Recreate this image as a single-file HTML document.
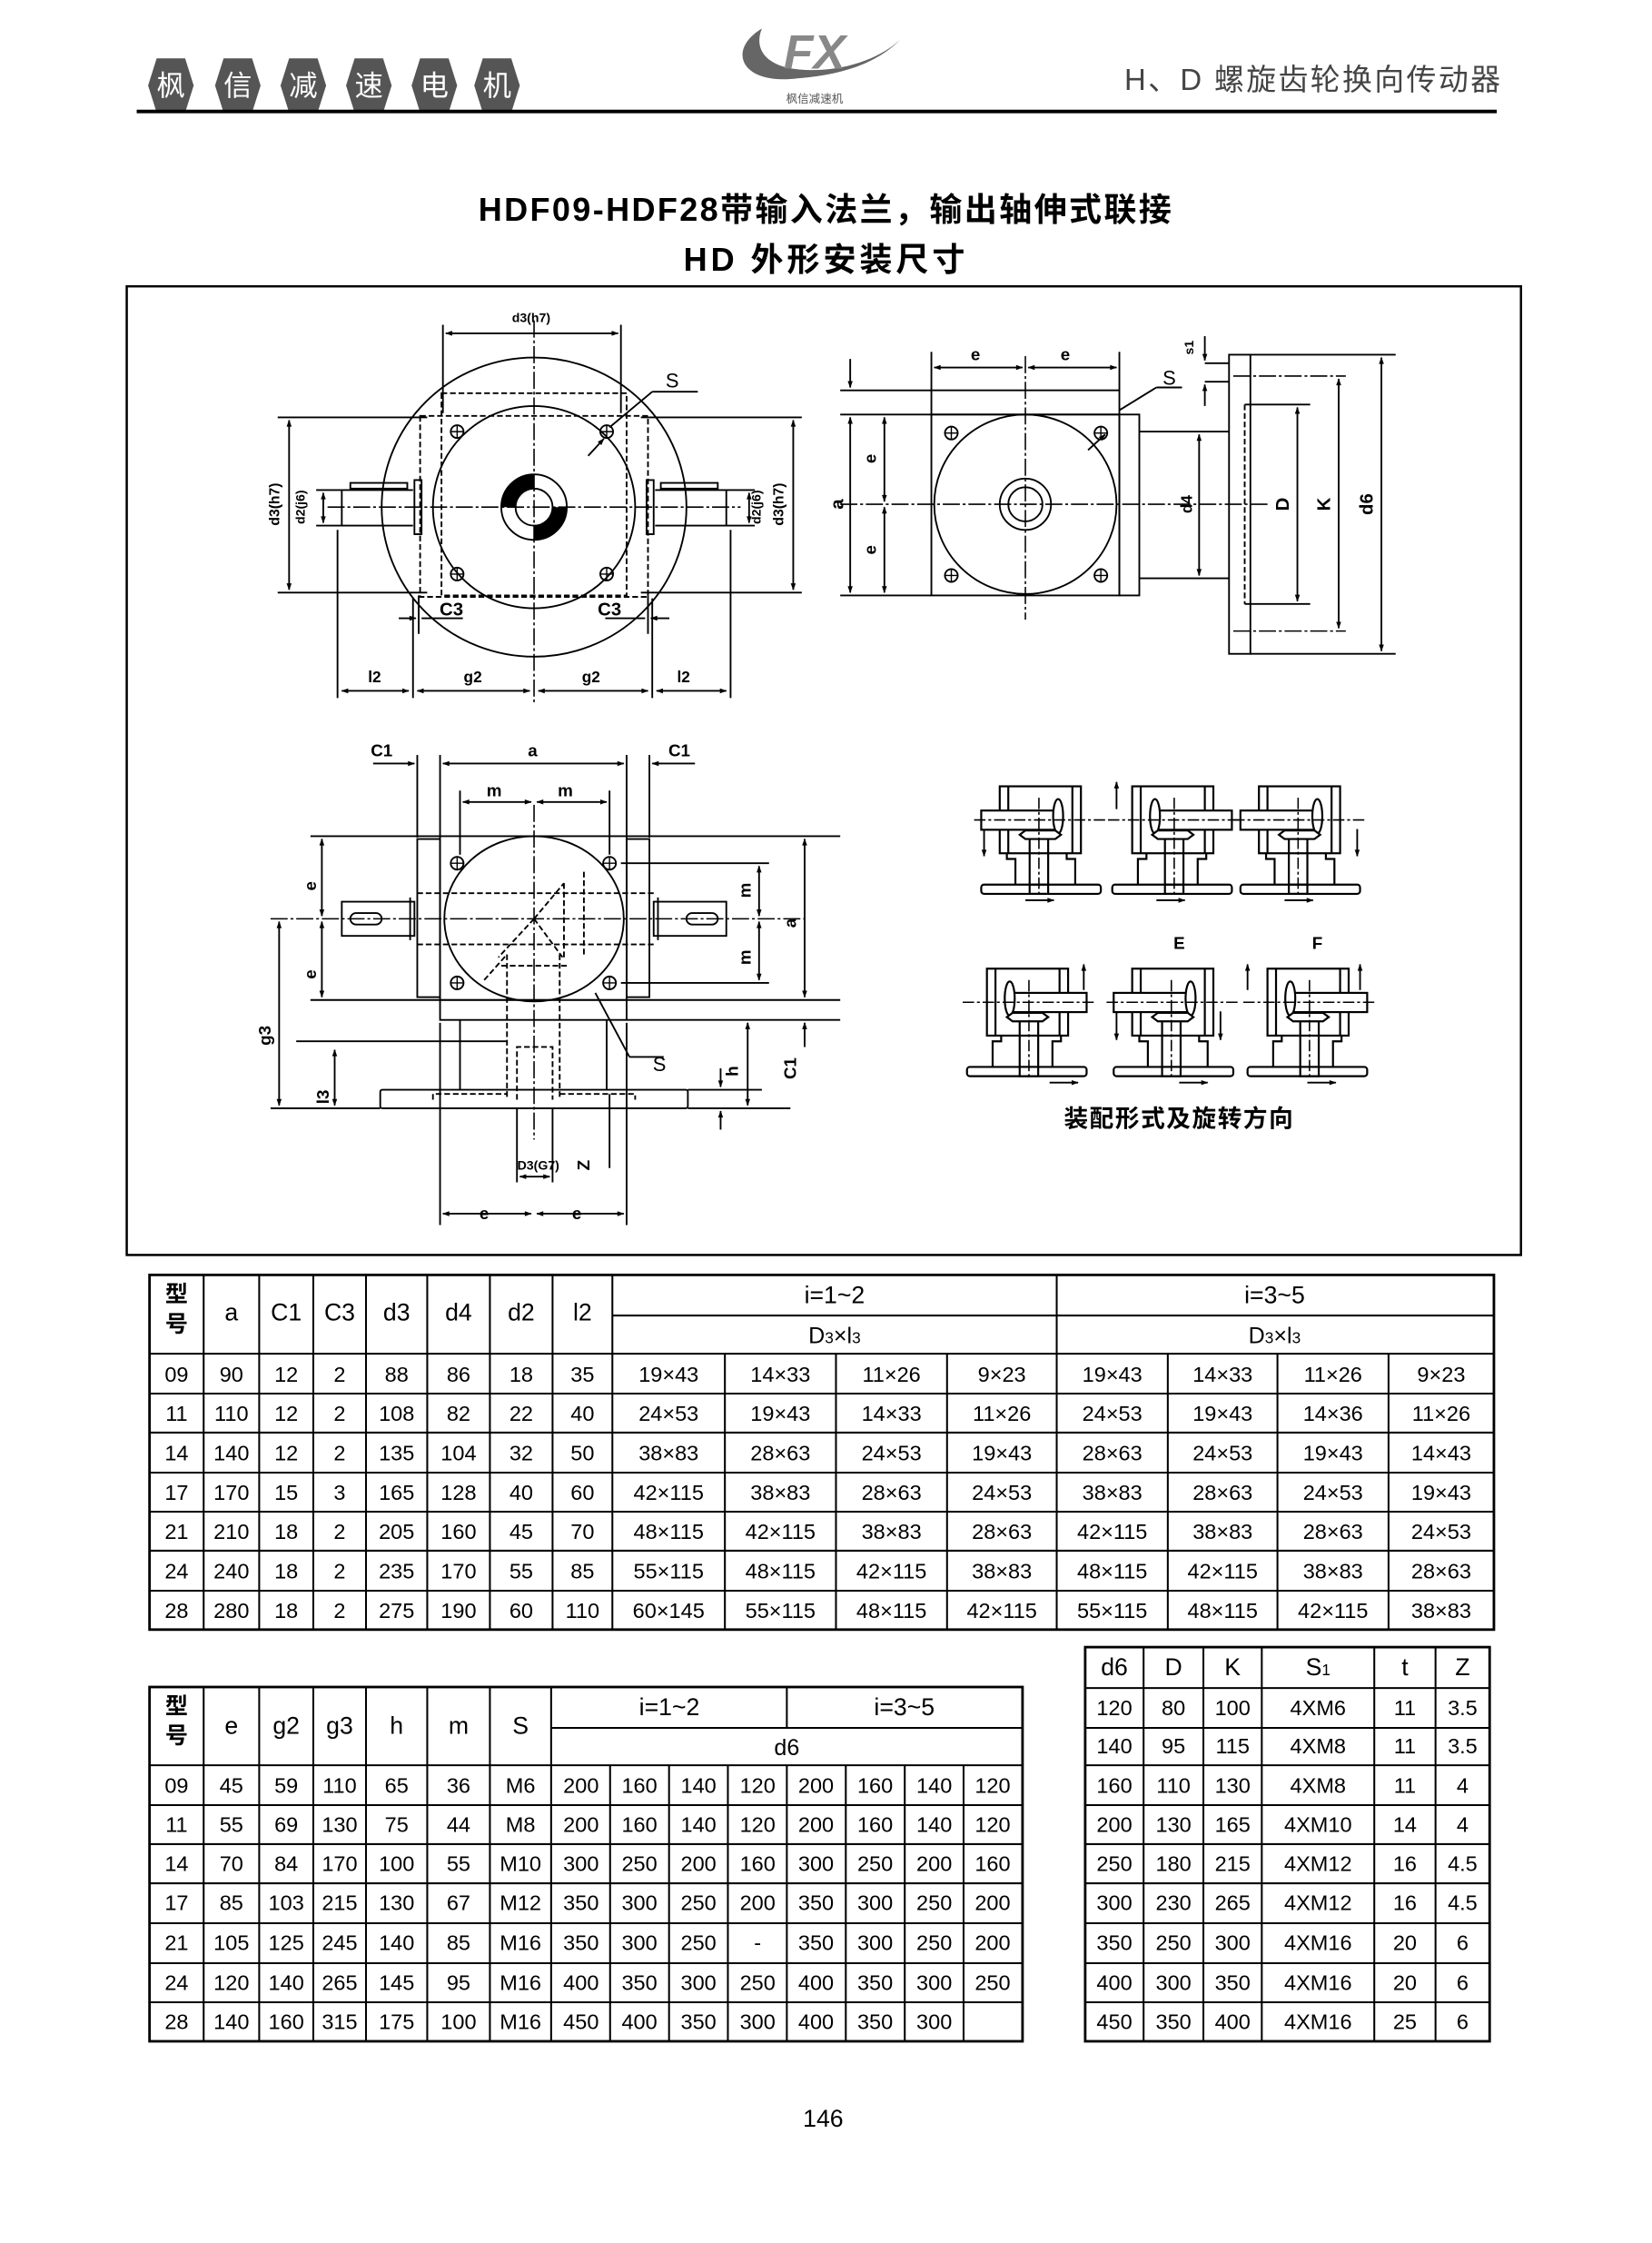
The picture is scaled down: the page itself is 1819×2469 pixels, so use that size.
<!DOCTYPE html>
<html><head><meta charset="utf-8"><style>
html,body{margin:0;padding:0;background:#fff;}
svg{display:block;}
text{font-family:"Liberation Sans","Noto Sans CJK SC",sans-serif;}
</style></head><body>
<svg width="1819" height="2469" viewBox="0 0 1160 1574.6" preserveAspectRatio="none" xmlns="http://www.w3.org/2000/svg">
<defs>
<marker id="ar" viewBox="0 0 10 10" refX="9" refY="5" markerWidth="7" markerHeight="5" orient="auto-start-reverse" markerUnits="userSpaceOnUse"><path d="M0,1.5 L10,5 L0,8.5 z" fill="#000"/></marker>
<g id="icon" fill="none" stroke="#000" stroke-width="1.4">
<rect x="13" y="10" width="57" height="47"/>
<line x1="19" y1="10" x2="19" y2="57"/><line x1="64" y1="10" x2="64" y2="57"/>
<path d="M18,57 V61 H24 V79 M60,57 V61 H66 V79" />
<rect x="0" y="79" width="84" height="6.5" rx="2"/>
<rect x="34" y="44" width="13" height="41.5"/>
<line x1="34" y1="79" x2="47" y2="79"/>
<rect x="0" y="27" width="53" height="13.5" fill="#fff"/>
<ellipse cx="54" cy="31" rx="3.5" ry="12" fill="#fff"/>
<path d="M27,44 L31,41 H52 L56,44 L52,47 H31 Z" fill="#fff"/>
<line x1="-5" y1="33.6" x2="88" y2="33.6" stroke-dasharray="8 2 2 2" stroke-width="1"/>
<line x1="40.5" y1="18" x2="40.5" y2="88" stroke-dasharray="8 2 2 2" stroke-width="1"/>
</g>
</defs>

<!-- header -->
<g fill="#555">
<polygon points="104,60 110,41 130,41 136,60 130,79 110,79"/>
<polygon points="151,60 157,41 177,41 183,60 177,79 157,79"/>
<polygon points="197,60 203,41 223,41 229,60 223,79 203,79"/>
<polygon points="243,60 249,41 269,41 275,60 269,79 249,79"/>
<polygon points="289,60 295,41 315,41 321,60 315,79 295,79"/>
<polygon points="333,60 339,41 359,41 365,60 359,79 339,79"/>
</g>
<g fill="#fff" font-size="20" text-anchor="middle">
<text x="120" y="67">枫</text><text x="167" y="67">信</text><text x="213" y="67">减</text><text x="259" y="67">速</text><text x="305" y="67">电</text><text x="349" y="67">机</text>
</g>
<path d="M535,20 C510,35 520,60 560,55 C600,52 620,40 632,28 C612,46 580,52 555,48 C535,44 530,32 535,20 Z" fill="#666"/>
<text x="572" y="48" font-size="34" font-style="italic" font-weight="bold" fill="#888" text-anchor="middle">FX</text>
<text x="572" y="72" font-size="8" fill="#555" text-anchor="middle">枫信减速机</text>
<text x="1055" y="63" font-size="21" fill="#444" text-anchor="end" letter-spacing="1.5">H、D 螺旋齿轮换向传动器</text>
<rect x="96" y="77" width="955" height="2.5" fill="#000"/>

<text x="580" y="155" font-size="23" font-weight="bold" text-anchor="middle" letter-spacing="1.5">HDF09-HDF28带输入法兰，输出轴伸式联接</text>
<text x="580" y="190" font-size="23" font-weight="bold" text-anchor="middle" letter-spacing="2.5">HD 外形安装尺寸</text>

<rect x="89" y="201" width="979" height="680" fill="none" stroke="#000" stroke-width="1.6"/>

<!-- Drawing 1 -->
<g fill="none" stroke="#000" stroke-width="1.2">
<ellipse cx="375" cy="356" rx="107" ry="105"/>
<circle cx="375" cy="356" r="71"/>
<rect x="310" y="276" width="130" height="142" stroke-dasharray="4 2"/>
<rect x="295" y="292" width="160" height="127" stroke-dasharray="4 2"/>
<line x1="375" y1="225" x2="375" y2="495" stroke-dasharray="12 2 2 2" stroke-width="1"/>
<line x1="230" y1="356" x2="520" y2="356" stroke-dasharray="12 2 2 2" stroke-width="1"/>
<line x1="311" y1="228" x2="311" y2="290"/><line x1="436" y1="228" x2="436" y2="290"/>
<line x1="313" y1="234" x2="434" y2="234" marker-start="url(#ar)" marker-end="url(#ar)"/>
<line x1="195" y1="293" x2="300" y2="293"/><line x1="450" y1="293" x2="563" y2="293"/>
<line x1="195" y1="416" x2="300" y2="416"/><line x1="450" y1="416" x2="563" y2="416"/>
<line x1="203" y1="295" x2="203" y2="414" marker-start="url(#ar)" marker-end="url(#ar)"/>
<line x1="557" y1="295" x2="557" y2="414" marker-start="url(#ar)" marker-end="url(#ar)"/>
<path d="M290,344 H240 V369 H290"/><rect x="246" y="339" width="40" height="4"/>
<rect x="291" y="337" width="5" height="38"/>
<path d="M460,344 H510 V369 H460"/><rect x="464" y="339" width="40" height="4"/>
<rect x="454" y="337" width="5" height="38"/>
<line x1="222" y1="344" x2="240" y2="344"/><line x1="222" y1="369" x2="240" y2="369"/>
<line x1="227" y1="346" x2="227" y2="367" marker-start="url(#ar)" marker-end="url(#ar)"/>
<line x1="510" y1="344" x2="530" y2="344"/><line x1="510" y1="369" x2="530" y2="369"/>
<line x1="526" y1="346" x2="526" y2="367" marker-start="url(#ar)" marker-end="url(#ar)"/>
<circle cx="375" cy="356" r="23"/><circle cx="375" cy="356" r="13"/>
<circle cx="321" cy="303" r="4.5"/><circle cx="426" cy="303" r="4.5"/><circle cx="321" cy="403" r="4.5"/><circle cx="426" cy="403" r="4.5"/>
<path d="M316.5,303h9M321,298.5v9M421.5,303h9M426,298.5v9M316.5,403h9M321,398.5v9M421.5,403h9M426,398.5v9" stroke-width="0.9"/>
<line x1="428" y1="300" x2="458" y2="275"/><line x1="458" y1="275" x2="490" y2="275"/>
<line x1="413" y1="320" x2="424" y2="308" marker-end="url(#ar)"/>
<line x1="237" y1="372" x2="237" y2="490"/><line x1="290" y1="420" x2="290" y2="490"/><line x1="458" y1="420" x2="458" y2="490"/><line x1="513" y1="372" x2="513" y2="490"/>
<line x1="294" y1="418" x2="294" y2="445"/><line x1="455" y1="418" x2="455" y2="445"/>
<line x1="240" y1="485" x2="287" y2="485" marker-start="url(#ar)" marker-end="url(#ar)"/>
<line x1="293" y1="485" x2="372" y2="485" marker-start="url(#ar)" marker-end="url(#ar)"/>
<line x1="378" y1="485" x2="455" y2="485" marker-start="url(#ar)" marker-end="url(#ar)"/>
<line x1="461" y1="485" x2="510" y2="485" marker-start="url(#ar)" marker-end="url(#ar)"/>
<line x1="280" y1="434" x2="292" y2="434" marker-end="url(#ar)"/><line x1="296" y1="434" x2="325" y2="434"/>
<line x1="470" y1="434" x2="457" y2="434" marker-end="url(#ar)"/><line x1="453" y1="434" x2="425" y2="434"/>
</g>
<path d="M375,333 A23,23 0 0 0 352,356 H362 A13,13 0 0 1 375,343 Z M375,379 A23,23 0 0 0 398,356 H388 A13,13 0 0 1 375,369 Z" fill="#000"/>
<g font-size="11" text-anchor="middle" font-weight="bold">
<text x="373" y="226" font-size="9">d3(h7)</text>
<text x="472" y="272" font-size="14" font-weight="normal">S</text>
<text x="317" y="432" font-size="13">C3</text><text x="428" y="432" font-size="13">C3</text>
<text x="263" y="479">l2</text><text x="332" y="479">g2</text><text x="415" y="479">g2</text><text x="480" y="479">l2</text>
<text transform="translate(196,354) rotate(-90)" font-size="10">d3(h7)</text>
<text transform="translate(214,356) rotate(-90)" font-size="9">d2(j6)</text>
<text transform="translate(534,356) rotate(-90)" font-size="9">d2(j6)</text>
<text transform="translate(550,354) rotate(-90)" font-size="10">d3(h7)</text>
</g>

<!-- Drawing 2 -->
<g fill="none" stroke="#000" stroke-width="1.2">
<rect x="654" y="274" width="132" height="17"/>
<rect x="654" y="291" width="132" height="127"/>
<rect x="786" y="291" width="14" height="127"/>
<path d="M800,303 H863 M800,406 H863"/>
<rect x="863" y="249" width="15" height="210"/>
<line x1="874" y1="284" x2="874" y2="424" stroke-dasharray="4 2"/>
<ellipse cx="720" cy="354" rx="64" ry="63"/>
<circle cx="720" cy="354" r="18"/><circle cx="720" cy="354" r="12"/>
<circle cx="668" cy="304" r="4.5"/><circle cx="773" cy="304" r="4.5"/><circle cx="668" cy="404" r="4.5"/><circle cx="773" cy="404" r="4.5"/>
<path d="M663.5,304h9M668,299.5v9M768.5,304h9M773,299.5v9M663.5,404h9M668,399.5v9M768.5,404h9M773,399.5v9" stroke-width="0.9"/>
<line x1="590" y1="354" x2="890" y2="354" stroke-dasharray="12 2 2 2" stroke-width="1"/>
<line x1="720" y1="250" x2="720" y2="435" stroke-dasharray="12 2 2 2" stroke-width="1"/>
<line x1="866" y1="264" x2="945" y2="264" stroke-dasharray="12 2 2 2" stroke-width="1"/>
<line x1="866" y1="443" x2="945" y2="443" stroke-dasharray="12 2 2 2" stroke-width="1"/>
<line x1="590" y1="274" x2="654" y2="274"/><line x1="590" y1="291" x2="654" y2="291"/><line x1="590" y1="418" x2="654" y2="418"/>
<line x1="597" y1="252" x2="597" y2="272" marker-end="url(#ar)"/>
<line x1="597" y1="293" x2="597" y2="416" marker-start="url(#ar)" marker-end="url(#ar)"/>
<line x1="621" y1="293" x2="621" y2="352" marker-start="url(#ar)" marker-end="url(#ar)"/>
<line x1="621" y1="356" x2="621" y2="416" marker-start="url(#ar)" marker-end="url(#ar)"/>
<line x1="654" y1="247" x2="654" y2="274"/><line x1="786" y1="247" x2="786" y2="274"/>
<line x1="656" y1="258" x2="718" y2="258" marker-start="url(#ar)" marker-end="url(#ar)"/>
<line x1="722" y1="258" x2="784" y2="258" marker-start="url(#ar)" marker-end="url(#ar)"/>
<line x1="878" y1="249" x2="980" y2="249"/><line x1="878" y1="459" x2="980" y2="459"/>
<line x1="874" y1="284" x2="920" y2="284"/><line x1="874" y1="424" x2="920" y2="424"/>
<line x1="911" y1="286" x2="911" y2="422" marker-start="url(#ar)" marker-end="url(#ar)"/>
<line x1="940" y1="266" x2="940" y2="441" marker-start="url(#ar)" marker-end="url(#ar)"/>
<line x1="970" y1="251" x2="970" y2="457" marker-start="url(#ar)" marker-end="url(#ar)"/>
<line x1="842" y1="305" x2="842" y2="404" marker-start="url(#ar)" marker-end="url(#ar)"/>
<line x1="846" y1="255" x2="863" y2="255"/><line x1="846" y1="268" x2="863" y2="268"/>
<line x1="846" y1="236" x2="846" y2="253" marker-end="url(#ar)"/>
<line x1="846" y1="285" x2="846" y2="270" marker-end="url(#ar)"/>
<line x1="786" y1="288" x2="812" y2="272"/><line x1="812" y1="272" x2="830" y2="272"/>
<line x1="764" y1="316" x2="776" y2="305" marker-end="url(#ar)"/>
</g>
<g font-size="12" text-anchor="middle" font-weight="bold">
<text x="685" y="253">e</text><text x="748" y="253">e</text>
<text x="821" y="270" font-size="14" font-weight="normal">S</text>
<text transform="translate(592,354) rotate(-90)" font-size="13">a</text>
<text transform="translate(615,322) rotate(-90)">e</text>
<text transform="translate(615,386) rotate(-90)">e</text>
<text transform="translate(837,354) rotate(-90)" font-size="11">d4</text>
<text transform="translate(905,354) rotate(-90)" font-size="13">D</text>
<text transform="translate(934,354) rotate(-90)" font-size="13">K</text>
<text transform="translate(964,354) rotate(-90)" font-size="13">d6</text>
<text transform="translate(838,244) rotate(-90)" font-size="9">s1</text>
</g>

<!-- Drawing 3 -->
<g fill="none" stroke="#000" stroke-width="1.2">
<rect x="309" y="587" width="131" height="115"/>
<rect x="293" y="589" width="16" height="111"/>
<rect x="440" y="589" width="16" height="111"/>
<rect x="309" y="702" width="131" height="14"/>
<line x1="323" y1="716" x2="323" y2="765"/><line x1="426" y1="716" x2="426" y2="765"/>
<rect x="267" y="765" width="216" height="13" rx="1.5"/>
<ellipse cx="375" cy="645" rx="63" ry="58"/>
<g stroke-dasharray="4 2">
<path d="M293,627 H459 M293,663 H459"/>
<path d="M356,670 V772 M393,670 V772 M304,772 V768 H356 M393,768 H446 V772"/>
<path d="M363,772 V735 H388 V772"/>
<path d="M375,645 L396,620 M375,645 L350,672 M375,645 L395,672 M340,688 L356,670 M396,620 V672 M410,612 V672 M352,678 H398"/>
</g>
<rect x="240" y="633" width="51" height="24"/><rect x="246" y="641" width="22" height="8" rx="4"/>
<rect x="459" y="633" width="51" height="24"/><rect x="482" y="641" width="22" height="8" rx="4"/>
<line x1="288" y1="630" x2="288" y2="660"/><line x1="462" y1="630" x2="462" y2="660"/>
<line x1="190" y1="645" x2="565" y2="645" stroke-dasharray="12 2 2 2" stroke-width="1"/>
<line x1="375" y1="565" x2="375" y2="800" stroke-dasharray="12 2 2 2" stroke-width="1"/>
<circle cx="321" cy="606" r="4.5"/><circle cx="428" cy="606" r="4.5"/><circle cx="321" cy="690" r="4.5"/><circle cx="428" cy="690" r="4.5"/>
<path d="M316.5,606h9M321,601.5v9M423.5,606h9M428,601.5v9M316.5,690h9M321,685.5v9M423.5,690h9M428,685.5v9" stroke-width="0.9"/>
<line x1="293" y1="530" x2="293" y2="588"/><line x1="309" y1="530" x2="309" y2="588"/><line x1="440" y1="530" x2="440" y2="588"/><line x1="456" y1="530" x2="456" y2="588"/>
<line x1="262" y1="536" x2="291" y2="536" marker-end="url(#ar)"/>
<line x1="311" y1="536" x2="438" y2="536" marker-start="url(#ar)" marker-end="url(#ar)"/>
<line x1="488" y1="536" x2="458" y2="536" marker-end="url(#ar)"/>
<line x1="323" y1="555" x2="323" y2="600"/><line x1="428" y1="555" x2="428" y2="600"/>
<line x1="325" y1="563" x2="373" y2="563" marker-start="url(#ar)" marker-end="url(#ar)"/>
<line x1="377" y1="563" x2="426" y2="563" marker-start="url(#ar)" marker-end="url(#ar)"/>
<line x1="218" y1="587" x2="309" y2="587"/><line x1="440" y1="587" x2="590" y2="587"/>
<line x1="218" y1="702" x2="309" y2="702"/><line x1="440" y1="702" x2="590" y2="702"/>
<line x1="440" y1="716" x2="590" y2="716"/>
<line x1="436" y1="606" x2="540" y2="606"/><line x1="436" y1="690" x2="540" y2="690"/>
<line x1="226" y1="589" x2="226" y2="643" marker-start="url(#ar)" marker-end="url(#ar)"/>
<line x1="226" y1="647" x2="226" y2="700" marker-start="url(#ar)" marker-end="url(#ar)"/>
<line x1="196" y1="647" x2="196" y2="776" marker-start="url(#ar)" marker-end="url(#ar)"/>
<line x1="190" y1="778" x2="267" y2="778"/><line x1="483" y1="778" x2="555" y2="778"/>
<line x1="483" y1="765" x2="535" y2="765"/>
<line x1="208" y1="731" x2="356" y2="731"/>
<line x1="235" y1="737" x2="235" y2="776" marker-start="url(#ar)" marker-end="url(#ar)"/>
<line x1="533" y1="608" x2="533" y2="643" marker-start="url(#ar)" marker-end="url(#ar)"/>
<line x1="533" y1="647" x2="533" y2="688" marker-start="url(#ar)" marker-end="url(#ar)"/>
<line x1="565" y1="589" x2="565" y2="700" marker-start="url(#ar)" marker-end="url(#ar)"/>
<line x1="565" y1="735" x2="565" y2="718" marker-end="url(#ar)"/>
<line x1="525" y1="718" x2="525" y2="776" marker-start="url(#ar)" marker-end="url(#ar)"/>
<line x1="506" y1="750" x2="506" y2="763" marker-end="url(#ar)"/>
<line x1="506" y1="793" x2="506" y2="780" marker-end="url(#ar)"/>
<line x1="309" y1="718" x2="309" y2="860"/><line x1="440" y1="718" x2="440" y2="860"/>
<line x1="428" y1="768" x2="428" y2="820"/>
<line x1="311" y1="852" x2="373" y2="852" marker-start="url(#ar)" marker-end="url(#ar)"/>
<line x1="377" y1="852" x2="438" y2="852" marker-start="url(#ar)" marker-end="url(#ar)"/>
<line x1="363" y1="778" x2="363" y2="830"/><line x1="388" y1="778" x2="388" y2="830"/>
<line x1="365" y1="826" x2="386" y2="826" marker-start="url(#ar)" marker-end="url(#ar)"/>
<line x1="418" y1="697" x2="442" y2="742"/><line x1="442" y1="742" x2="466" y2="742"/>
</g>
<g font-size="12" text-anchor="middle" font-weight="bold">
<text x="268" y="531">C1</text><text x="374" y="531">a</text><text x="477" y="531">C1</text>
<text x="347" y="559">m</text><text x="397" y="559">m</text>
<text transform="translate(222,622) rotate(-90)">e</text>
<text transform="translate(222,684) rotate(-90)">e</text>
<text transform="translate(190,727) rotate(-90)">g3</text>
<text transform="translate(231,770) rotate(-90)">l3</text>
<text transform="translate(527,625) rotate(-90)">m</text>
<text transform="translate(527,672) rotate(-90)">m</text>
<text transform="translate(559,648) rotate(-90)">a</text>
<text transform="translate(559,750) rotate(-90)">C1</text>
<text transform="translate(518,752) rotate(-90)">h</text>
<text transform="translate(414,818) rotate(-90)">Z</text>
<text x="378" y="821" font-size="9">D3(G7)</text>
<text x="463" y="752" font-size="14" font-weight="normal">S</text>
<text x="340" y="856">e</text><text x="405" y="856">e</text>
</g>

<!-- Drawing 4 icons -->
<use href="#icon" transform="translate(689,542)"/>
<use href="#icon" transform="translate(865,542) scale(-1,1)"/>
<use href="#icon" transform="translate(871,542)"/>
<use href="#icon" transform="translate(763,670) scale(-1,1)"/>
<use href="#icon" transform="translate(782,670)"/>
<use href="#icon" transform="translate(960,670) scale(-1,1)"/>
<g stroke="#000" stroke-width="1.2" fill="none">
<line x1="691" y1="582" x2="691" y2="601" marker-end="url(#ar)"/>
<line x1="720" y1="632" x2="740" y2="632" marker-end="url(#ar)"/>
<line x1="784" y1="568" x2="784" y2="549" marker-end="url(#ar)"/>
<line x1="812" y1="632" x2="832" y2="632" marker-end="url(#ar)"/>
<line x1="953" y1="582" x2="953" y2="601" marker-end="url(#ar)"/>
<line x1="902" y1="632" x2="922" y2="632" marker-end="url(#ar)"/>
<line x1="761" y1="695" x2="761" y2="677" marker-end="url(#ar)"/>
<line x1="737" y1="760" x2="757" y2="760" marker-end="url(#ar)"/>
<line x1="784" y1="710" x2="784" y2="730" marker-end="url(#ar)"/>
<line x1="857" y1="710" x2="857" y2="730" marker-end="url(#ar)"/>
<line x1="828" y1="760" x2="848" y2="760" marker-end="url(#ar)"/>
<line x1="876" y1="695" x2="876" y2="677" marker-end="url(#ar)"/>
<line x1="955" y1="695" x2="955" y2="677" marker-end="url(#ar)"/>
<line x1="918" y1="760" x2="938" y2="760" marker-end="url(#ar)"/>
</g>
<text x="828" y="666" font-size="12" font-weight="bold" text-anchor="middle">E</text>
<text x="925" y="666" font-size="12" font-weight="bold" text-anchor="middle">F</text>
<text x="828" y="791" font-size="17" font-weight="bold" text-anchor="middle" letter-spacing="1">装配形式及旋转方向</text>

<!-- Table 1 -->
<g stroke="#000" stroke-width="1.3" fill="none">
<rect x="105" y="895" width="944" height="249" stroke-width="1.8"/>
<path d="M143,895V1144M182,895V1144M220,895V1144M257,895V1144M300,895V1144M344,895V1144M388,895V1144M430,895V1144M509,950V1144M587,950V1144M665,950V1144M742,895V1144M820,950V1144M897,950V1144M975,950V1144"/>
<path d="M430,923.5H1049M105,950.3H1049M105,978.3H1049M105,1005.7H1049M105,1033.8H1049M105,1061.2H1049M105,1088.6H1049M105,1116.7H1049"/>
</g>
<g font-size="15" text-anchor="middle">
<text x="124" y="914" font-weight="bold" font-size="16">型</text><text x="124" y="935" font-weight="bold" font-size="16">号</text>
<text y="927" font-size="17"><tspan x="162.5">a</tspan><tspan x="201">C1</tspan><tspan x="238.5">C3</tspan><tspan x="278.5">d3</tspan><tspan x="322">d4</tspan><tspan x="366">d2</tspan><tspan x="409">l2</tspan></text>
<text y="915" font-size="17"><tspan x="586">i=1~2</tspan><tspan x="895">i=3~5</tspan></text>
<text y="943" font-size="16"><tspan x="586">D<tspan font-size="11">3</tspan>×l<tspan font-size="11">3</tspan></tspan></text>
<text y="943" font-size="16"><tspan x="895">D<tspan font-size="11">3</tspan>×l<tspan font-size="11">3</tspan></tspan></text>
<text y="970"><tspan x="124">09</tspan><tspan x="162.5">90</tspan><tspan x="201">12</tspan><tspan x="238.5">2</tspan><tspan x="278.5">88</tspan><tspan x="322">86</tspan><tspan x="366">18</tspan><tspan x="409">35</tspan><tspan x="469.5">19×43</tspan><tspan x="548">14×33</tspan><tspan x="626">11×26</tspan><tspan x="703.5">9×23</tspan><tspan x="781">19×43</tspan><tspan x="858.5">14×33</tspan><tspan x="936">11×26</tspan><tspan x="1012">9×23</tspan></text>
<text y="997.5"><tspan x="124">11</tspan><tspan x="162.5">110</tspan><tspan x="201">12</tspan><tspan x="238.5">2</tspan><tspan x="278.5">108</tspan><tspan x="322">82</tspan><tspan x="366">22</tspan><tspan x="409">40</tspan><tspan x="469.5">24×53</tspan><tspan x="548">19×43</tspan><tspan x="626">14×33</tspan><tspan x="703.5">11×26</tspan><tspan x="781">24×53</tspan><tspan x="858.5">19×43</tspan><tspan x="936">14×36</tspan><tspan x="1012">11×26</tspan></text>
<text y="1025.2"><tspan x="124">14</tspan><tspan x="162.5">140</tspan><tspan x="201">12</tspan><tspan x="238.5">2</tspan><tspan x="278.5">135</tspan><tspan x="322">104</tspan><tspan x="366">32</tspan><tspan x="409">50</tspan><tspan x="469.5">38×83</tspan><tspan x="548">28×63</tspan><tspan x="626">24×53</tspan><tspan x="703.5">19×43</tspan><tspan x="781">28×63</tspan><tspan x="858.5">24×53</tspan><tspan x="936">19×43</tspan><tspan x="1012">14×43</tspan></text>
<text y="1052.8"><tspan x="124">17</tspan><tspan x="162.5">170</tspan><tspan x="201">15</tspan><tspan x="238.5">3</tspan><tspan x="278.5">165</tspan><tspan x="322">128</tspan><tspan x="366">40</tspan><tspan x="409">60</tspan><tspan x="469.5">42×115</tspan><tspan x="548">38×83</tspan><tspan x="626">28×63</tspan><tspan x="703.5">24×53</tspan><tspan x="781">38×83</tspan><tspan x="858.5">28×63</tspan><tspan x="936">24×53</tspan><tspan x="1012">19×43</tspan></text>
<text y="1080.5"><tspan x="124">21</tspan><tspan x="162.5">210</tspan><tspan x="201">18</tspan><tspan x="238.5">2</tspan><tspan x="278.5">205</tspan><tspan x="322">160</tspan><tspan x="366">45</tspan><tspan x="409">70</tspan><tspan x="469.5">48×115</tspan><tspan x="548">42×115</tspan><tspan x="626">38×83</tspan><tspan x="703.5">28×63</tspan><tspan x="781">42×115</tspan><tspan x="858.5">38×83</tspan><tspan x="936">28×63</tspan><tspan x="1012">24×53</tspan></text>
<text y="1108"><tspan x="124">24</tspan><tspan x="162.5">240</tspan><tspan x="201">18</tspan><tspan x="238.5">2</tspan><tspan x="278.5">235</tspan><tspan x="322">170</tspan><tspan x="366">55</tspan><tspan x="409">85</tspan><tspan x="469.5">55×115</tspan><tspan x="548">48×115</tspan><tspan x="626">42×115</tspan><tspan x="703.5">38×83</tspan><tspan x="781">48×115</tspan><tspan x="858.5">42×115</tspan><tspan x="936">38×83</tspan><tspan x="1012">28×63</tspan></text>
<text y="1135.8"><tspan x="124">28</tspan><tspan x="162.5">280</tspan><tspan x="201">18</tspan><tspan x="238.5">2</tspan><tspan x="278.5">275</tspan><tspan x="322">190</tspan><tspan x="366">60</tspan><tspan x="409">110</tspan><tspan x="469.5">60×145</tspan><tspan x="548">55×115</tspan><tspan x="626">48×115</tspan><tspan x="703.5">42×115</tspan><tspan x="781">55×115</tspan><tspan x="858.5">48×115</tspan><tspan x="936">42×115</tspan><tspan x="1012">38×83</tspan></text>
</g>

<!-- Table 2 left -->
<g stroke="#000" stroke-width="1.3" fill="none">
<rect x="105" y="1184.3" width="613" height="248.7" stroke-width="1.8"/>
<path d="M143,1184.3V1433M182,1184.3V1433M220,1184.3V1433M257,1184.3V1433M300,1184.3V1433M344,1184.3V1433M387,1184.3V1433M428.4,1239.2V1433M469.8,1239.2V1433M511.1,1239.2V1433M552.5,1184.3V1213M552.5,1239.2V1433M593.9,1239.2V1433M635.3,1239.2V1433M676.6,1239.2V1433"/>
<path d="M387,1213H718M105,1239.2H718M105,1267.2H718M105,1294.6H718M105,1322.1H718M105,1350.1H718M105,1378.2H718M105,1405.6H718"/>
</g>
<g font-size="15" text-anchor="middle">
<text x="124" y="1203" font-weight="bold" font-size="16">型</text><text x="124" y="1224" font-weight="bold" font-size="16">号</text>
<text y="1217" font-size="17"><tspan x="162.5">e</tspan><tspan x="201">g2</tspan><tspan x="238.5">g3</tspan><tspan x="278.5">h</tspan><tspan x="322">m</tspan><tspan x="365.5">S</tspan></text>
<text y="1204" font-size="17"><tspan x="470">i=1~2</tspan><tspan x="635">i=3~5</tspan></text>
<text x="552.5" y="1232" font-size="16">d6</text>
<text y="1258.5"><tspan x="124">09</tspan><tspan x="162.5">45</tspan><tspan x="201">59</tspan><tspan x="238.5">110</tspan><tspan x="278.5">65</tspan><tspan x="322">36</tspan><tspan x="365.5">M6</tspan><tspan x="408">200</tspan><tspan x="449">160</tspan><tspan x="490.5">140</tspan><tspan x="532">120</tspan><tspan x="573">200</tspan><tspan x="614.5">160</tspan><tspan x="656">140</tspan><tspan x="697">120</tspan></text>
<text y="1286"><tspan x="124">11</tspan><tspan x="162.5">55</tspan><tspan x="201">69</tspan><tspan x="238.5">130</tspan><tspan x="278.5">75</tspan><tspan x="322">44</tspan><tspan x="365.5">M8</tspan><tspan x="408">200</tspan><tspan x="449">160</tspan><tspan x="490.5">140</tspan><tspan x="532">120</tspan><tspan x="573">200</tspan><tspan x="614.5">160</tspan><tspan x="656">140</tspan><tspan x="697">120</tspan></text>
<text y="1313.5"><tspan x="124">14</tspan><tspan x="162.5">70</tspan><tspan x="201">84</tspan><tspan x="238.5">170</tspan><tspan x="278.5">100</tspan><tspan x="322">55</tspan><tspan x="365.5">M10</tspan><tspan x="408">300</tspan><tspan x="449">250</tspan><tspan x="490.5">200</tspan><tspan x="532">160</tspan><tspan x="573">300</tspan><tspan x="614.5">250</tspan><tspan x="656">200</tspan><tspan x="697">160</tspan></text>
<text y="1341"><tspan x="124">17</tspan><tspan x="162.5">85</tspan><tspan x="201">103</tspan><tspan x="238.5">215</tspan><tspan x="278.5">130</tspan><tspan x="322">67</tspan><tspan x="365.5">M12</tspan><tspan x="408">350</tspan><tspan x="449">300</tspan><tspan x="490.5">250</tspan><tspan x="532">200</tspan><tspan x="573">350</tspan><tspan x="614.5">300</tspan><tspan x="656">250</tspan><tspan x="697">200</tspan></text>
<text y="1369"><tspan x="124">21</tspan><tspan x="162.5">105</tspan><tspan x="201">125</tspan><tspan x="238.5">245</tspan><tspan x="278.5">140</tspan><tspan x="322">85</tspan><tspan x="365.5">M16</tspan><tspan x="408">350</tspan><tspan x="449">300</tspan><tspan x="490.5">250</tspan><tspan x="532">-</tspan><tspan x="573">350</tspan><tspan x="614.5">300</tspan><tspan x="656">250</tspan><tspan x="697">200</tspan></text>
<text y="1397"><tspan x="124">24</tspan><tspan x="162.5">120</tspan><tspan x="201">140</tspan><tspan x="238.5">265</tspan><tspan x="278.5">145</tspan><tspan x="322">95</tspan><tspan x="365.5">M16</tspan><tspan x="408">400</tspan><tspan x="449">350</tspan><tspan x="490.5">300</tspan><tspan x="532">250</tspan><tspan x="573">400</tspan><tspan x="614.5">350</tspan><tspan x="656">300</tspan><tspan x="697">250</tspan></text>
<text y="1424.5"><tspan x="124">28</tspan><tspan x="162.5">140</tspan><tspan x="201">160</tspan><tspan x="238.5">315</tspan><tspan x="278.5">175</tspan><tspan x="322">100</tspan><tspan x="365.5">M16</tspan><tspan x="408">450</tspan><tspan x="449">400</tspan><tspan x="490.5">350</tspan><tspan x="532">300</tspan><tspan x="573">400</tspan><tspan x="614.5">350</tspan><tspan x="656">300</tspan></text>
</g>

<!-- Table 2 right -->
<g stroke="#000" stroke-width="1.3" fill="none">
<rect x="762" y="1156.3" width="284" height="276.7" stroke-width="1.8"/>
<path d="M803,1156.3V1433M845,1156.3V1433M886,1156.3V1433M965,1156.3V1433M1008,1156.3V1433"/>
<path d="M762,1185H1046M762,1213H1046M762,1239.2H1046M762,1267.2H1046M762,1294.6H1046M762,1322.1H1046M762,1350.1H1046M762,1378.2H1046M762,1405.6H1046"/>
</g>
<g font-size="15" text-anchor="middle">
<text y="1176" font-size="17"><tspan x="782.5">d6</tspan><tspan x="824">D</tspan><tspan x="865.5">K</tspan><tspan x="925.5">S<tspan font-size="11">1</tspan></tspan><tspan x="986.5">t</tspan><tspan x="1027">Z</tspan></text>
<text y="1204"><tspan x="782.5">120</tspan><tspan x="824">80</tspan><tspan x="865.5">100</tspan><tspan x="925.5">4XM6</tspan><tspan x="986.5">11</tspan><tspan x="1027">3.5</tspan></text>
<text y="1231"><tspan x="782.5">140</tspan><tspan x="824">95</tspan><tspan x="865.5">115</tspan><tspan x="925.5">4XM8</tspan><tspan x="986.5">11</tspan><tspan x="1027">3.5</tspan></text>
<text y="1258.5"><tspan x="782.5">160</tspan><tspan x="824">110</tspan><tspan x="865.5">130</tspan><tspan x="925.5">4XM8</tspan><tspan x="986.5">11</tspan><tspan x="1027">4</tspan></text>
<text y="1286"><tspan x="782.5">200</tspan><tspan x="824">130</tspan><tspan x="865.5">165</tspan><tspan x="925.5">4XM10</tspan><tspan x="986.5">14</tspan><tspan x="1027">4</tspan></text>
<text y="1313.5"><tspan x="782.5">250</tspan><tspan x="824">180</tspan><tspan x="865.5">215</tspan><tspan x="925.5">4XM12</tspan><tspan x="986.5">16</tspan><tspan x="1027">4.5</tspan></text>
<text y="1341"><tspan x="782.5">300</tspan><tspan x="824">230</tspan><tspan x="865.5">265</tspan><tspan x="925.5">4XM12</tspan><tspan x="986.5">16</tspan><tspan x="1027">4.5</tspan></text>
<text y="1369"><tspan x="782.5">350</tspan><tspan x="824">250</tspan><tspan x="865.5">300</tspan><tspan x="925.5">4XM16</tspan><tspan x="986.5">20</tspan><tspan x="1027">6</tspan></text>
<text y="1397"><tspan x="782.5">400</tspan><tspan x="824">300</tspan><tspan x="865.5">350</tspan><tspan x="925.5">4XM16</tspan><tspan x="986.5">20</tspan><tspan x="1027">6</tspan></text>
<text y="1424.5"><tspan x="782.5">450</tspan><tspan x="824">350</tspan><tspan x="865.5">400</tspan><tspan x="925.5">4XM16</tspan><tspan x="986.5">25</tspan><tspan x="1027">6</tspan></text>
</g>

<text x="578" y="1493" font-size="17" text-anchor="middle">146</text>
</svg>
</body></html>
